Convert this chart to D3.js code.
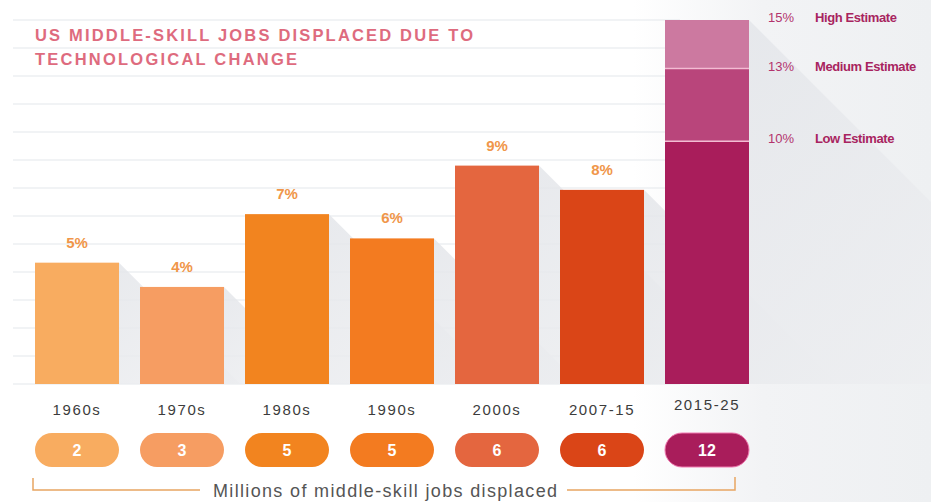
<!DOCTYPE html>
<html>
<head>
<meta charset="utf-8">
<script src="https://cdn.jsdelivr.net/npm/d3@7"></script>
<style>
  html, body { margin: 0; padding: 0; background: #fff; }
  svg { display: block; font-family: "Liberation Sans", Arial, sans-serif; }
</style>
</head>
<body>
<svg id="chart" width="931" height="502"></svg>
<script>
// ---- Data ----
const categories = ["1960s", "1970s", "1980s", "1990s", "2000s", "2007-15", "2015-25"];
const sharePct = [5, 4, 7, 6, 9, 8, 10];          // % of jobs displaced (2015-25 = low estimate)
const jobsMillions = ["2", "3", "5", "5", "6", "6", "12"];
const barColors = ["#f8ac60", "#f69d62", "#f2841f", "#f37b20", "#e4663f", "#da4517", "#a91d5b"];
const estimateNames = ["Low Estimate", "Medium Estimate", "High Estimate"];
const estimateValues = [10, 13, 15];
const estimateColors = ["#a91d5b", "#b9457b", "#cc79a0"];
const titleLines = ["US MIDDLE-SKILL JOBS DISPLACED DUE TO", "TECHNOLOGICAL CHANGE"];
const footnote = "Millions of middle-skill jobs displaced";

// ---- Setup ----
const svg = d3.select("#chart");
const W = 931, H = 502;
const x = d3.scaleBand().domain(categories).range([35, 749]).paddingInner(0.2).paddingOuter(0);
const y = d3.scaleLinear().domain([0, 15]).range([384, 20]);
const base = y(0);

const defs = svg.append("defs");
const bg = defs.append("linearGradient").attr("id", "bg").attr("x1", 0).attr("x2", 1).attr("y1", 0).attr("y2", 0);
bg.append("stop").attr("offset", 0).attr("stop-color", "#ffffff");
bg.append("stop").attr("offset", 0.68).attr("stop-color", "#ffffff");
bg.append("stop").attr("offset", 0.82).attr("stop-color", "#f2f3f5");
bg.append("stop").attr("offset", 1).attr("stop-color", "#eef0f2");

const sh = defs.append("linearGradient").attr("id", "shadow").attr("x1", 0).attr("x2", 1).attr("y1", 0).attr("y2", 1);
sh.append("stop").attr("offset", 0).attr("stop-color", "#e4e6ea");
sh.append("stop").attr("offset", 1).attr("stop-color", "#f0f1f3");

svg.append("rect").attr("width", W).attr("height", H).attr("fill", "url(#bg)");

// ---- Gridlines ----
const gridVals = d3.range(0, 14).map(i => i * 15 / 13);
svg.append("g").selectAll("line").data(gridVals).join("line")
  .attr("x1", 13).attr("x2", 680)
  .attr("y1", d => y(d)).attr("y2", d => y(d))
  .attr("stroke", "#e4e7eb").attr("stroke-width", 1.2);

// ---- Shadows ----
const topVals = categories.map((c, i) => i === categories.length - 1 ? d3.max(estimateValues) : sharePct[i]);
svg.append("g").selectAll("path").data(categories).join("path")
  .attr("d", (c, i) => {
    const x1 = x(c) + x.bandwidth();
    const t = y(topVals[i]);
    const h = base - t;
    return `M${x1},${t} L${x1 + h},${base} L${x1},${base} Z`;
  })
  .attr("fill", "url(#shadow)")
  .attr("opacity", 0.85);

// ---- Bars ----
const bars = svg.append("g");
bars.selectAll("rect.bar").data(categories.slice(0, 6)).join("rect")
  .attr("class", "bar")
  .attr("x", c => x(c)).attr("width", x.bandwidth())
  .attr("y", (c, i) => y(sharePct[i])).attr("height", (c, i) => base - y(sharePct[i]))
  .attr("fill", (c, i) => barColors[i]);

// stacked estimate bar
const lastCat = categories[categories.length - 1];
const segs = estimateValues.map((v, i) => ({ lo: i === 0 ? 0 : estimateValues[i - 1], hi: v, color: estimateColors[i] }));
bars.selectAll("rect.est").data(segs).join("rect")
  .attr("class", "est")
  .attr("x", x(lastCat)).attr("width", x.bandwidth())
  .attr("y", d => y(d.hi)).attr("height", d => y(d.lo) - y(d.hi))
  .attr("fill", d => d.color);
bars.selectAll("line.sep").data(estimateValues.slice(0, 2)).join("line")
  .attr("class", "sep")
  .attr("x1", x(lastCat)).attr("x2", x(lastCat) + x.bandwidth())
  .attr("y1", d => y(d)).attr("y2", d => y(d))
  .attr("stroke", "#f3bcd3").attr("stroke-width", 1.5);

// ---- Percent labels ----
svg.append("g").selectAll("text").data(categories.slice(0, 6)).join("text")
  .attr("x", c => x(c) + x.bandwidth() / 2)
  .attr("y", (c, i) => y(sharePct[i]) - 15)
  .attr("text-anchor", "middle")
  .attr("font-size", 15).attr("font-weight", "bold")
  .attr("fill", "#f0964a")
  .text((c, i) => sharePct[i] + "%");

// ---- Estimate labels ----
const est = svg.append("g");
est.selectAll("text.pct").data(estimateValues).join("text")
  .attr("class", "pct")
  .attr("x", 768).attr("y", d => y(d) + 2)
  .attr("font-size", 13).attr("fill", "#b3336d")
  .text(d => d + "%");
est.selectAll("text.name").data(estimateValues).join("text")
  .attr("class", "name")
  .attr("x", 815).attr("y", d => y(d) + 2)
  .attr("font-size", 13).attr("font-weight", "bold").attr("fill", "#a8245f")
  .attr("letter-spacing", -0.4)
  .text((d, i) => estimateNames[i]);

// ---- Category axis labels ----
const xAxis = d3.axisBottom(x).tickSize(0).tickPadding(0);
const ax = svg.append("g").attr("transform", `translate(0,${base + 31})`).call(xAxis);
ax.select(".domain").remove();
ax.selectAll("text")
  .attr("font-size", 15).attr("fill", "#3c3c3c").attr("letter-spacing", 1.6)
  .attr("font-family", "Liberation Sans, Arial, sans-serif")
  .attr("dy", 0)
  .attr("transform", d => d === lastCat ? "translate(0,-5)" : null);

// ---- Pills ----
const pills = svg.append("g");
pills.selectAll("rect").data(categories).join("rect")
  .attr("x", c => x(c)).attr("width", x.bandwidth())
  .attr("y", 433).attr("height", 34).attr("rx", 17)
  .attr("fill", (c, i) => barColors[i])
  .attr("stroke", (c, i) => i === categories.length - 1 ? "#f07ab0" : "none")
  .attr("stroke-width", 1);
pills.selectAll("text").data(categories).join("text")
  .attr("x", c => x(c) + x.bandwidth() / 2).attr("y", 456)
  .attr("text-anchor", "middle")
  .attr("font-size", 16).attr("font-weight", "bold").attr("fill", "#ffffff")
  .text((c, i) => jobsMillions[i]);

// ---- Bracket + footnote ----
const bx0 = x(categories[0]) - 2, bx1 = x(lastCat) + x.bandwidth() - 14;
svg.append("path")
  .attr("d", `M${bx0},478 L${bx0},490 L200,490`)
  .attr("fill", "none").attr("stroke", "#e7a562").attr("stroke-width", 1.5);
svg.append("path")
  .attr("d", `M567,490 L${bx1},490 L${bx1},477`)
  .attr("fill", "none").attr("stroke", "#e7a562").attr("stroke-width", 1.5);
svg.append("text")
  .attr("x", 213).attr("y", 497)
  .attr("font-size", 18).attr("fill", "#555")
  .attr("textLength", 344).attr("lengthAdjust", "spacing")
  .text(footnote);

// ---- Title ----
const titleWidths = [438, 262];
svg.append("g").selectAll("text").data(titleLines).join("text")
  .attr("x", 35).attr("y", (d, i) => 41 + i * 24)
  .attr("font-size", 16.5).attr("font-weight", "bold")
  .attr("fill", "#de6b7e")
  .attr("textLength", (d, i) => titleWidths[i]).attr("lengthAdjust", "spacing")
  .text(d => d);
</script>
</body>
</html>
